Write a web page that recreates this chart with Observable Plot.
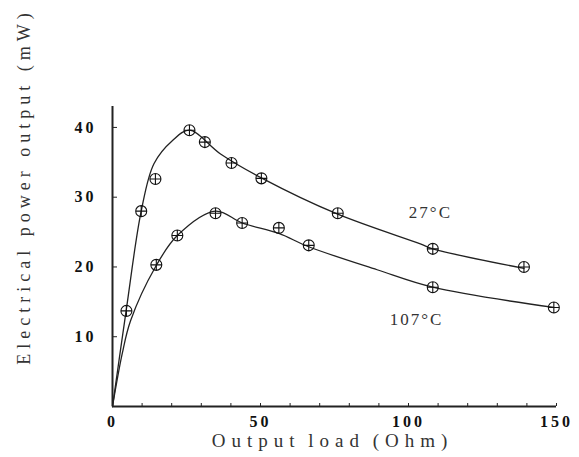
<!DOCTYPE html>
<html>
<head>
<meta charset="utf-8">
<script src="https://cdn.jsdelivr.net/npm/d3@7"></script>
<script src="https://cdn.jsdelivr.net/npm/@observablehq/plot@0.6"></script>
<style>
  html, body { margin: 0; padding: 0; background: #fff; }
</style>
</head>
<body>
<div id="chart"></div>
<script>
// Measured points, 27 °C
const load27 = [4.7, 9.7, 14.5, 26.0, 31.2, 40.2, 50.3, 76.1, 108.2, 139.0];
const power27 = [13.7, 28.0, 32.6, 39.6, 37.9, 34.9, 32.7, 27.7, 22.6, 20.0];
// Measured points, 107 °C
const load107 = [14.8, 21.9, 34.8, 43.8, 56.2, 66.3, 108.2, 149.1];
const power107 = [20.3, 24.5, 27.7, 26.3, 25.6, 23.1, 17.1, 14.2];
// Fitted curves
const fitLoad27 = [0, 4.7, 9.7, 14.0, 20.2, 26.0, 36.5, 50.6, 75.9, 104.0, 108.2, 139.0];
const fitPower27 = [0, 14.0, 28.0, 34.8, 38.1, 39.6, 36.2, 32.7, 27.6, 23.3, 22.6, 19.8];
const fitLoad107 = [0, 3.3, 6.1, 14.5, 21.9, 34.8, 43.8, 56.2, 66.3, 89.4, 108.2, 149.1];
const fitPower107 = [0, 7.6, 12.3, 20.0, 24.5, 28.0, 26.3, 24.8, 22.9, 19.6, 17.1, 14.2];
// Axis ticks
const xTickLabels = [0, 50, 100, 150];
const xMinorTicks = [0, 10, 20, 30, 40, 50, 60, 70, 80, 90, 100, 110, 120, 130, 140, 150];
const yTickLabels = [10, 20, 30, 40];
// Curve labels
const curveLabels = ["27°C", "107°C"];
const curveLabelLoad = [107.4, 102.7];
const curveLabelPower = [27.8, 12.4];
const xTitle = "Output load (Ohm)";
const yTitle = "Electrical power output (mW)";

const points = [
  ...load27.map((x, i) => ({x, y: power27[i], s: "27"})),
  ...load107.map((x, i) => ({x, y: power107[i], s: "107"}))
];
const fits = [
  ...fitLoad27.map((x, i) => ({x, y: fitPower27[i], s: "27"})),
  ...fitLoad107.map((x, i) => ({x, y: fitPower107[i], s: "107"}))
];
const labels = curveLabels.map((t, i) => ({t, x: curveLabelLoad[i], y: curveLabelPower[i]}));

const circlePlus = {
  draw(ctx, size) {
    const r = Math.sqrt(size / Math.PI);
    ctx.moveTo(r, 0);
    ctx.arc(0, 0, r, 0, 2 * Math.PI);
    ctx.moveTo(-r, 0); ctx.lineTo(r, 0);
    ctx.moveTo(0, -r); ctx.lineTo(0, r);
  }
};

const serif = "'Liberation Serif', 'DejaVu Serif', serif";

const chart = Plot.plot({
  width: 579,
  height: 457,
  marginLeft: 112,
  marginRight: 23,
  marginTop: 106,
  marginBottom: 51,
  style: {fontFamily: serif, background: "#fff"},
  x: {domain: [0, 150]},
  y: {domain: [0, 43]},
  marks: [
    Plot.axisX({ticks: xMinorTicks, tickSize: 3, dy: -3, text: null, stroke: "#222", label: null}),
    Plot.axisX({ticks: xTickLabels, tickSize: 0, tickPadding: 9, fontSize: 16, fontWeight: "bold",
      fill: "#111", label: null, tickFormat: d => String(d)}),
    Plot.axisY({ticks: yTickLabels, tickSize: 5, dx: 5, text: null, stroke: "#222", label: null}),
    Plot.axisY({ticks: yTickLabels, tickSize: 0, tickPadding: 16, fontSize: 16, fontWeight: "bold",
      fill: "#111", label: null, tickFormat: d => String(d)}),
    Plot.ruleX([0], {stroke: "#222", strokeWidth: 2}),
    Plot.ruleY([0], {stroke: "#222", strokeWidth: 2}),
    Plot.line(fits, {x: "x", y: "y", z: "s", curve: "catmull-rom", stroke: "#222", strokeWidth: 1.3}),
    Plot.dot(points, {x: "x", y: "y", r: 5.5, symbol: circlePlus, stroke: "#111", fill: "none", strokeWidth: 1.1}),
    Plot.text(labels, {x: "x", y: "y", text: "t", fontSize: 17, fill: "#333"}),
    Plot.text([xTitle], {frameAnchor: "bottom", textAnchor: "middle", dy: 40, dx: -2, fontSize: 19, fill: "#333"}),
    Plot.text([yTitle], {frameAnchor: "top-left", textAnchor: "middle", lineAnchor: "middle",
      dx: -88, dy: 80, rotate: -90, fontSize: 18, fill: "#333"})
  ]
});
document.getElementById("chart").appendChild(chart);

// letter spacing as in the reference
const svg = d3.select(chart);
svg.selectAll('g[aria-label="x-axis tick label"] text, g[aria-label="y-axis tick label"] text')
  .style("letter-spacing", "3px");
svg.selectAll("text").each(function () {
  const t = this.textContent;
  if (t === xTitle) d3.select(this).style("letter-spacing", "6px").style("word-spacing", "-3px");
  else if (t === yTitle) d3.select(this).style("letter-spacing", "5px");
  else if (curveLabels.includes(t)) d3.select(this).style("letter-spacing", "2px");
});
</script>
</body>
</html>
